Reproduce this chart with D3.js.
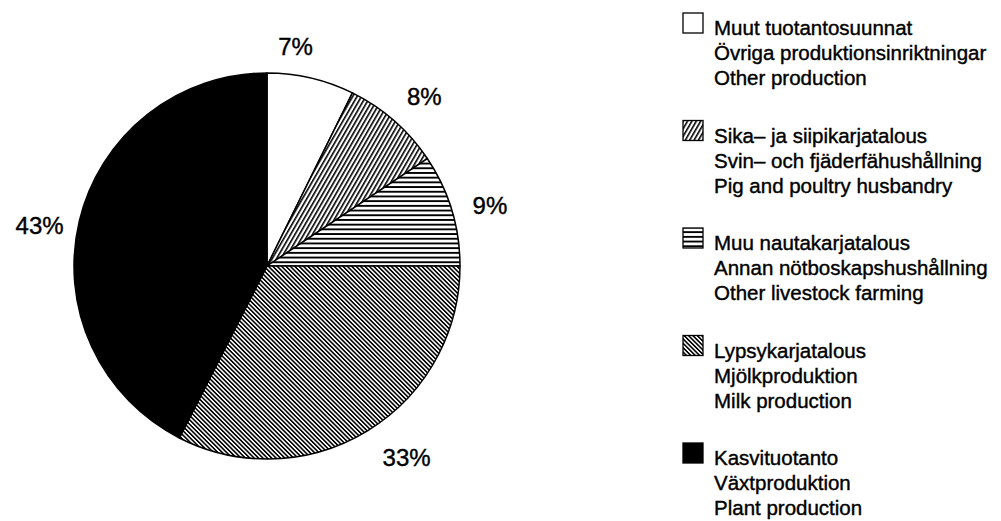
<!DOCTYPE html>
<html>
<head>
<meta charset="utf-8">
<script src="https://cdn.jsdelivr.net/npm/d3@7"></script>
<style>
    body { margin: 0; background: #fff; }
    text { font-family: "Liberation Sans", Arial, Helvetica, sans-serif; fill: #000; }
</style>
</head>
<body>
<svg id="chart" width="1001" height="521"></svg>
<script>
// shares in percent, clockwise from 12 o'clock
var shares = [7.3, 8.3, 9.4, 32.5, 42.5];
var shareLabels = ["7%", "8%", "9%", "33%", "43%"];
var fills = ["white", "url(#hatchUp)", "url(#hatchHoriz)", "url(#hatchDown)", "black"];

var namesFi = ["Muut tuotantosuunnat", "Sika\u2013 ja siipikarjatalous", "Muu nautakarjatalous", "Lypsykarjatalous", "Kasvituotanto"];
var namesSv = ["Övriga produktionsinriktningar", "Svin\u2013 och fjäderfähushållning", "Annan nötboskapshushållning", "Mjölkproduktion", "Växtproduktion"];
var namesEn = ["Other production", "Pig and poultry husbandry", "Other livestock farming", "Milk production", "Plant production"];

var svg = d3.select("#chart");
var cx = 267, cy = 266, radius = 193;

// hatch patterns
var defs = svg.append("defs");

function hatch(id, size, lineW, angle, horiz) {
    var p = defs.append("pattern")
        .attr("id", id)
        .attr("patternUnits", "userSpaceOnUse")
        .attr("width", size)
        .attr("height", size)
        .attr("patternTransform", "rotate(" + angle + ")");
    p.append("rect")
        .attr("width", size)
        .attr("height", size)
        .attr("fill", "white");
    if (horiz) {
        p.append("rect").attr("x", 0).attr("y", 0)
            .attr("width", size).attr("height", lineW).attr("fill", "black");
    } else {
        p.append("rect").attr("x", 0).attr("y", 0)
            .attr("width", lineW).attr("height", size).attr("fill", "black");
    }
}
hatch("hatchUp", 3.8, 1.6, 30, false);
hatch("hatchHoriz", 4.7, 1.9, 0, true);
hatch("hatchDown", 3.1, 1.6, -45, false);

var pie = d3.pie().sort(null).value(function (d) { return d; });
var arcs = pie(shares);

var arc = d3.arc().innerRadius(0).outerRadius(radius);

var g = svg.append("g").attr("transform", "translate(" + cx + "," + cy + ")");

g.selectAll(".slice")
    .data(arcs)
    .enter()
    .append("path")
    .attr("class", "slice")
    .attr("d", arc)
    .attr("fill", function (d, i) { return fills[i]; })
    .attr("stroke", "black")
    .attr("stroke-width", 1.5)
    .attr("stroke-linejoin", "round");

// percentage labels outside the pie
var labelRadius = 231;
var angleShift = [-0.1, 0.03, 0.03, -0.08, -0.06]; // radians, hand placement of the original
var radiusShift = [-10, 0, 0, 6, 0];
function labelPos(d, i) {
    var a = (d.startAngle + d.endAngle) / 2 + angleShift[i];
    var r = labelRadius + radiusShift[i];
    return [Math.sin(a) * r, -Math.cos(a) * r];
}
g.selectAll(".pct")
    .data(arcs)
    .enter()
    .append("text")
    .attr("class", "pct")
    .attr("text-anchor", "middle")
    .attr("dy", "0.35em")
    .style("font-size", "24px")
    .style("stroke", "black")
    .style("stroke-width", 0.4)
    .attr("x", function (d, i) { return labelPos(d, i)[0]; })
    .attr("y", function (d, i) { return labelPos(d, i)[1]; })
    .text(function (d, i) { return shareLabels[i]; });

// legend
var legX = 683, legTop = 35, legStep = 107.5, lineH = 25, boxSize = 20;

var items = svg.selectAll(".legItem")
    .data(d3.range(shares.length))
    .enter()
    .append("g")
    .attr("class", "legItem")
    .attr("transform", function (d) { return "translate(" + legX + "," + (legTop + d * legStep) + ")"; });

items.append("rect")
    .attr("x", 0)
    .attr("y", -boxSize - 2)
    .attr("width", boxSize)
    .attr("height", boxSize)
    .attr("fill", function (d) { return fills[d]; })
    .attr("stroke", "black")
    .attr("stroke-width", 1.3);

var nameLines = [namesFi, namesSv, namesEn];
nameLines.forEach(function (names, k) {
    items.append("text")
        .attr("x", 31)
        .attr("y", k * lineH)
        .style("font-size", "20.5px")
        .style("stroke", "black")
        .style("stroke-width", 0.4)
        .text(function (d) { return names[d]; });
});
</script>
</body>
</html>
